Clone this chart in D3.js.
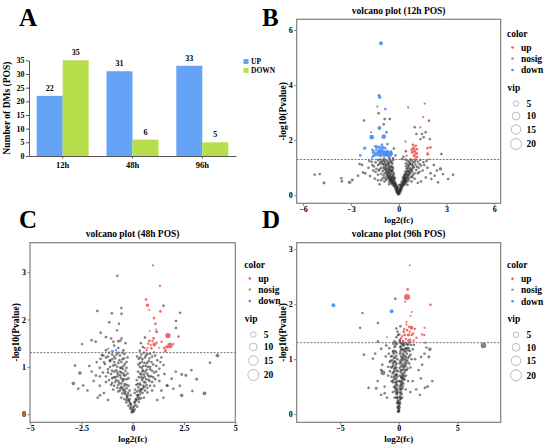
<!DOCTYPE html>
<html>
<head>
<meta charset="utf-8">
<script src="https://cdn.jsdelivr.net/npm/d3@7"></script>
<style>
  body { margin: 0; background: #fff; }
</style>
</head>
<body>
<div id="fig"></div>
<script>
// ---- data: bar chart (A) ----
const barCats = ['12h', '48h', '96h'];
const upCounts = [22, 31, 33];
const downCounts = [35, 6, 5];
const countTicks = [0, 5, 10, 15, 20, 25, 30, 35];

// ---- data: volcano plots, points are [log2fc, -log10 p, vip] ----
const pThreshold = 1.3;
const vipLegend = [5, 10, 15, 20];

const downB = [[-1.11,5.52,2.6],[-1.19,3.56,1.8],[-1.34,3.22,0.7],[-0.84,3.13,1.2],[-1.21,2.44,2.6],[-1.69,2.11,3.6],[-0.94,2.13,3.6],[-1.74,2.29,0.7],[-2.13,1.71,1.8],[-2.41,1.45,1.2],[-0.71,1.86,1.2],
  [-1.44,1.78,1.8],[-1.30,1.75,1.8],[-1.15,1.74,1.8],[-0.98,1.73,1.8],[-0.86,1.71,1.2],[-1.40,1.66,1.2],[-1.23,1.62,1.8],[-1.07,1.63,1.8],[-1.57,1.56,2.6],[-1.30,1.51,4.7],[-0.98,1.54,6],[-0.61,1.50,7.3],[-0.82,1.50,4.7],
  [-1.61,1.42,1.2],[-1.13,1.44,1.8],[-1.49,1.46,1.8],[-0.46,1.61,0.7],[-0.94,1.38,0.7],[-1.69,1.34,0.7],[-0.73,1.61,1.2],[-1.05,1.83,1.2],[-1.19,1.56,2.6],[-0.48,1.51,2.6],[-1.65,1.65,1.2]];
const upB = [[1.63,3.33,0.8],[0.59,3.19,0.8],[1.53,2.84,0.8],[1.36,2.47,0.8],[0.42,1.95,0.8],[1.99,1.74,1.2],[1.80,1.71,1.2],[1.82,1.50,1.8],[0.50,1.44,0.8],[0.75,1.31,0.6],[0.90,1.83,1.2],
  [1.07,1.80,1.2],[0.94,1.71,1.8],[1.15,1.68,1.2],[1.00,1.61,1.8],[0.86,1.56,1.8],[1.11,1.52,1.8],[0.98,1.44,1.8],[1.15,1.39,1.2],[1.05,1.32,1.2],[1.90,1.31,0.6],[0.82,1.66,1.2]];
const nosigB = [[-0.05,0.05],[0.05,0.06],[-0.1,0.1],[0.1,0.12],[-0.15,0.14],[0.15,0.18],[-0.08,0.18],[0.08,0.2],[-0.2,0.22],[0.2,0.25],[-0.12,0.26],[0.12,0.28],
  [-0.25,0.3],[-0.32,0.35],[-0.18,0.34],[-0.4,0.4],[-0.28,0.42],[-0.5,0.45],[-0.35,0.48],[-0.22,0.46],[-0.6,0.5],[-0.45,0.52],
  [0.22,0.32],[0.3,0.36],[0.38,0.4],[0.26,0.44],[0.45,0.46],[0.34,0.5],[0.55,0.5],[0.42,0.55],
  [-0.3,0.56],[-0.55,0.58],[-0.7,0.6],[-0.42,0.62],[-0.85,0.64],[-0.62,0.66],[-0.35,0.68],[-0.5,0.7],[-0.95,0.72],[-0.75,0.74],[-0.4,0.76],[-1.1,0.78],[-0.6,0.8],[-0.88,0.8],[-0.3,0.8],
  [0.3,0.58],[0.5,0.6],[0.65,0.63],[0.4,0.66],[0.78,0.68],[0.55,0.71],[0.9,0.74],[0.35,0.75],[0.7,0.78],[1.0,0.8],[0.48,0.8],
  [-0.45,0.85],[-0.7,0.86],[-1.0,0.88],[-1.25,0.9],[-0.55,0.92],[-0.85,0.94],[-1.4,0.96],[-0.35,0.98],[-0.65,1.0],[-1.1,1.0],[-0.9,1.04],[-1.55,1.05],[-0.5,1.06],[-0.75,1.08],[-1.3,1.1],[-1.0,1.12],
  [0.4,0.86],[0.62,0.88],[0.85,0.9],[1.1,0.92],[0.5,0.96],[0.75,0.98],[1.25,1.0],[0.95,1.02],[0.45,1.05],[0.65,1.08],[1.4,1.08],[1.05,1.12],
  [-0.4,1.15],[-0.6,1.16],[-0.85,1.18],[-1.15,1.2],[-1.45,1.2],[-0.5,1.24],[-0.75,1.26],[-1.0,1.27],[-1.3,1.28],[-1.7,1.22],[-0.35,1.28],
  [0.45,1.16],[0.7,1.18],[0.9,1.2],[1.2,1.22],[1.55,1.2],[0.55,1.26],[0.8,1.27],[1.05,1.28],[1.35,1.28],
  [-0.03,0.1],[0.03,0.14],[-0.06,0.22],[0.06,0.24],[-0.1,0.3],[0.1,0.36],[-0.15,0.38],[0.16,0.4],[-0.2,0.42],[0.18,0.48],[-0.26,0.5],[0.24,0.52],[-0.38,0.54],[0.36,0.56],
  [-0.48,0.6],[0.44,0.62],[-0.24,0.62],[0.26,0.64],[-0.58,0.7],[0.6,0.72],[-0.32,0.72],[0.42,0.74],[-0.68,0.8],[0.58,0.84],[-0.42,0.88],[0.8,0.84],[-0.8,0.9],[0.7,0.92],
  [-0.6,0.95],[0.58,0.98],[-1.2,0.94],[0.9,1.0],[-0.45,1.0],[1.15,1.04],[-0.8,1.0],[0.55,1.12],[-0.62,1.1],[0.82,1.12],[-0.95,1.14],[1.3,1.14],[-1.2,1.14],[0.62,1.22],
  [-0.45,1.2],[1.0,1.22],[-0.65,1.22],[0.75,1.3],[-0.9,1.25],[-1.15,1.3],[-0.55,1.3],[0.42,1.3],[-0.38,0.9],[-0.28,0.64],[0.33,0.68],[-0.72,0.68],[0.62,0.56],[-0.8,0.56],
  [-1.0,0.62],[0.85,0.66],[1.2,0.8],[-1.3,0.75],[-1.45,0.85],[1.3,0.85],[-1.65,1.1],[1.6,1.1],[-1.85,1.25],[1.75,1.25],[-0.05,0.3],[0.04,0.38],[-0.6,0.4],[0.55,0.38],
  [-0.9,0.5],[0.8,0.5],[-1.1,0.55],[1.0,0.6],
  [-0.02,0.04],[0.02,0.08],[-0.07,0.14],[0.07,0.16],[-0.12,0.2],[0.11,0.22],[-0.17,0.27],[0.16,0.3],[-0.22,0.35],[0.19,0.35],[-0.28,0.38],[0.26,0.39],[-0.33,0.44],[0.3,0.42],
  [-0.4,0.47],[0.35,0.46],[-0.46,0.5],[0.4,0.5],[-0.52,0.55],[0.46,0.54],[-0.36,0.58],[0.33,0.6],[-0.58,0.62],[0.52,0.65],[-0.45,0.66],[0.38,0.7],[-0.66,0.72],[0.62,0.76],
  [-0.52,0.78],[0.45,0.78],[-0.78,0.82],[0.52,0.88],[-0.62,0.86],[0.68,0.84],[-0.5,0.9],[0.78,0.94],[-0.72,0.94],[0.6,1.04],[-0.95,0.98],[0.88,1.08],[-0.58,1.02],[0.72,1.14],
  [-0.82,1.1],[-0.7,1.16],[-1.05,1.2],[-0.9,1.32],[-0.6,1.36],[-0.4,1.04],
  [-0.35,1.35],[-0.2,1.45],[0.3,1.4],[0.2,1.32],[-0.5,1.55],[0.45,1.6],[-0.3,1.7],
  [-2.18,2.72],[-1.26,2.98],[-1.23,3.63],[-0.88,2.77],[-0.56,2.77],[-0.94,2.58],[-0.77,2.29],[1.90,2.71],[1.00,2.47],[1.69,2.29],[1.57,2.11],[1.46,2.23],[1.95,2.04],[1.11,2.23],[2.68,1.50],[1.36,2.04],
  [-1.6,0.9],[-1.9,1.0],[-2.1,0.8],[-1.8,0.7],[-1.5,0.6],[-2.3,1.1],[-1.3,0.55],[-1.2,0.4],[1.5,0.9],[1.8,1.0],[2.0,0.8],[1.7,0.65],[1.4,0.5],[2.2,1.1],[1.2,0.45],[2.4,0.9],
  [-5.27,0.75],[-4.96,0.77],[-4.69,0.45,1.2],[-3.60,0.62],[-3.56,0.51],[-3.08,0.47,1.8],[-2.91,0.56,1.2],[-2.55,0.71],[-2.45,1.14],[-2.24,0.83],[3.41,0.75],[3.10,0.59],[2.78,0.77],[2.26,0.71],[2.47,0.47],[2.05,0.59],[2.62,0.96,1.8]];

const downC = [[-0.75,2.92,1.2],[-0.76,1.77,1.2],[-2.46,1.48,1.2],[-1.19,1.38,0.7],[-0.99,1.33,1.2],[-0.81,1.35,0.9]];
const upC = [[0.98,3.14,0.8],[1.33,2.71,0.9],[0.65,2.42,1.2],[0.72,2.30,1.8],[0.81,2.20,0.6],[1.35,2.17,1.2],[1.04,2.03,1.2],[1.11,1.91,1.2],[1.14,1.79,0.6],[0.83,1.76,0.6],[1.72,1.66,4.7],
  [2.23,1.64,1.2],[1.02,1.60,1.2],[0.81,1.55,1.2],[0.96,1.54,0.9],[1.82,1.45,4.7],[1.66,1.42,1.8],[1.06,1.47,2.6],[0.72,1.40,0.6],[0.91,1.39,1.2],[1.28,1.40,0.6],[1.59,1.34,1.8],
  [0.68,1.35,0.9],[1.17,1.51,0.9],[0.88,1.46,0.9],[1.04,1.31,0.9],[1.41,1.53,0.9],[1.53,1.40,0.9],[0.76,1.49,0.9],[0.59,1.40,0.7],[1.98,1.48,0.9]];
const nosigC = [[-0.05,0.05],[0.05,0.06],[-0.12,0.12],[0.1,0.1],[-0.08,0.2],[0.14,0.2],[-0.2,0.18],[0.22,0.16],[-0.18,0.28],[0.2,0.3],[-0.3,0.25],[0.3,0.26],[-0.26,0.35],[0.28,0.36],[-0.4,0.32],[0.4,0.34],
  [-0.35,0.42],[-0.5,0.44],[-0.22,0.45],[-0.62,0.5],[-0.42,0.52],[-0.3,0.55],[-0.75,0.56],[-0.55,0.58],[-0.9,0.6],[-0.2,0.6],[0.34,0.42],[0.48,0.45],[0.22,0.48],[0.6,0.5],[0.4,0.53],[0.28,0.57],[0.72,0.56],[0.52,0.6],[0.85,0.6],[0.18,0.62],
  [-0.38,0.64],[-0.65,0.66],[-1.0,0.66],[-0.48,0.7],[-0.8,0.72],[-1.15,0.72],[-0.3,0.74],[-0.58,0.77],[-0.92,0.78],[-1.3,0.8],[-0.42,0.82],[-0.7,0.84],[-1.05,0.85],[-0.25,0.86],[-0.55,0.88],[-1.45,0.88],
  [0.35,0.65],[0.62,0.67],[0.95,0.68],[0.45,0.72],[0.78,0.73],[1.1,0.74],[0.3,0.78],[0.58,0.79],[0.9,0.8],[1.25,0.82],[0.42,0.84],[0.7,0.86],[1.05,0.88],[0.26,0.9],
  [-0.35,0.92],[-0.8,0.93],[-1.2,0.95],[-0.6,0.98],[-1.6,0.98],[-0.45,1.02],[-0.95,1.03],[-1.35,1.06],[-0.7,1.08],[-0.3,1.1],[-1.1,1.12],[-1.75,1.1],[-0.5,1.16],[-0.85,1.18],[-1.3,1.2],[-0.62,1.24],[-1.0,1.26],[-0.4,1.27],[-1.5,1.25],
  [0.5,0.93],[0.85,0.95],[1.3,0.96],[0.35,1.0],[0.65,1.02],[1.0,1.05],[1.5,1.04],[0.45,1.1],[0.78,1.12],[1.2,1.14],[0.3,1.17],[0.6,1.2],[0.95,1.22],[1.4,1.2],[0.42,1.26],[0.72,1.27],
  [-0.03,0.1],[0.03,0.14],[-0.1,0.22],[0.08,0.25],[-0.15,0.32],[0.14,0.3],[-0.25,0.4],[0.22,0.4],[-0.4,0.45],[0.38,0.47],[-0.15,0.5],[0.12,0.52],[-0.5,0.55],[0.5,0.55],
  [-0.28,0.62],[0.25,0.64],[-0.7,0.62],[0.68,0.62],[-0.85,0.68],[0.82,0.7],[-0.5,0.74],[0.5,0.76],[-0.2,0.76],[0.2,0.72],[-1.0,0.76],[1.0,0.78],[-0.75,0.8],[0.75,0.82],
  [-0.35,0.82],[0.36,0.86],[-0.62,0.9],[0.6,0.9],[-0.9,0.9],[0.95,0.92],[-1.2,0.88],[1.15,0.9],[-0.48,0.96],[0.45,0.98],[-0.75,1.0],[0.75,1.0],[-1.1,1.0],[1.15,1.02],
  [-0.38,1.06],[0.58,1.08],[-0.9,1.1],[0.92,1.1],[-0.55,1.1],[0.38,1.2],[-0.78,1.26],[0.85,1.28],[-1.2,1.22],[1.1,1.24],[-0.5,1.3],[0.55,1.3],[-1.4,1.1],[1.35,1.1],
  [-1.05,0.62],[1.05,0.6],[-0.7,0.48],[0.72,0.46],[-0.95,0.52],[0.95,0.5],[-0.55,0.35],[0.55,0.35],[-1.3,0.68],[1.3,0.7],[-0.3,0.98],[0.28,1.05],[-0.25,1.2],[0.22,1.22],
  [-1.6,0.8],[1.55,0.85],[-0.1,0.4],[0.1,0.45],[-0.3,0.3],[0.32,0.32],
  [-0.02,0.04],[0.02,0.08],[-0.08,0.15],[0.07,0.17],[-0.13,0.24],[0.12,0.26],[-0.2,0.3],[0.18,0.33],[-0.28,0.37],[0.26,0.4],[-0.35,0.48],[0.33,0.5],[-0.45,0.5],[0.43,0.52],
  [-0.6,0.55],[0.58,0.58],[-0.4,0.6],[0.38,0.62],[-0.55,0.65],[0.55,0.68],[-0.7,0.7],[0.66,0.74],[-0.42,0.74],[0.42,0.78],[-0.85,0.78],[0.82,0.8],[-0.6,0.82],[0.55,0.84],
  [-0.45,0.86],[0.48,0.9],[-0.75,0.88],[0.68,0.94],[-1.0,0.92],[0.85,1.0],[-0.55,0.98],[0.52,1.02],[-0.85,1.04],[0.7,1.08],[-0.65,1.14],[0.48,1.16],[-1.0,1.16],[0.82,1.18],
  [-0.42,1.18],[0.65,1.24],[-0.7,1.3],[-0.9,1.22],[-1.15,1.3],[0.35,1.08],
  [-0.45,1.35],[-0.7,1.4],[-0.9,1.45],[-1.3,1.35],[-0.35,1.5],[-0.6,1.55],[-1.05,1.6],[0.35,1.34],[0.5,1.42],[0.4,1.5],[0.6,1.62],
  [-1.6,0.6],[-1.9,0.7],[-2.2,0.5],[-1.4,0.45],[-1.7,0.35],[-1.2,0.3],[-2.0,0.9],[1.4,0.5],[1.7,0.6],[1.9,0.75],[1.5,0.35],[2.1,0.9],[1.2,0.3],[2.3,0.6],
  [-1.72,2.18],[-1.01,2.13],[-0.55,2.24],[-0.54,2.12],[-1.14,1.94],[-0.67,1.91],[-1.56,1.72],[-1.30,1.63],[-2.0,1.56],[-1.80,1.53],[-0.94,1.53],[-0.70,1.54],[-0.54,1.60],
  [1.50,2.29],[2.11,1.97],[2.31,2.14],[2.11,1.82],[1.17,1.74],
  [4.13,1.24,2.2],[3.77,1.09],[2.86,0.93],[3.12,0.74,1.2],[2.39,0.84,1.2],[2.59,0.82,1.2],[3.50,0.44,2.2],[2.39,0.40,1.8],[2.91,0.49],[1.66,0.61],[1.98,0.54],
  [-2.81,1.03],[-2.57,0.87,1.8],[-2.11,1.02],[-2.89,0.65,1.8],[-2.65,0.54],[-2.41,0.61],[-1.59,0.40],[-1.79,0.82],[-1.43,1.24],[-1.56,1.17],[-1.11,1.14]];

const downD = [[-5.57,1.98,2.6],[-3.09,1.84,1.2],[-0.60,1.87,2.6],[-1.0,1.40,0.6],[-0.43,1.33,0.6]];
const upD = [[0.94,2.71,0.6],[0.77,2.27,1.2],[0.71,2.13,6],[0.54,2.05,0.6],[2.71,1.99,1.2],[1.11,1.86,0.6],[1.0,1.79,0.6],[0.66,1.68,0.8],[0.66,1.63,0.8],[1.09,1.57,2.6],[2.2,1.57,0.8],
  [0.71,1.53,1.2],[0.43,1.50,1.2],[0.94,1.50,0.9],[1.23,1.47,0.9],[1.97,1.45,0.8],[2.17,1.44,0.9],[0.51,1.44,1.2],[0.83,1.44,1.8],[1.11,1.44,1.2],[0.2,1.38,1.2],[0.6,1.37,0.9],
  [0.94,1.36,0.9],[0.37,1.33,0.9],[1.0,1.32,1.2],[2.26,1.30,0.9],[1.29,1.34,0.9],[0.8,1.34,0.9],[0.31,1.42,0.9],[1.37,1.55,0.9],[0.89,1.59,0.9],[0.46,1.55,0.9],[1.51,1.39,0.9]];
const nosigD = [[-0.05,0.05],[0.04,0.06],[-0.1,0.12],[0.08,0.12],[-0.15,0.2],[0.12,0.2],[-0.08,0.25],[0.18,0.28],[-0.22,0.3],[0.1,0.32],[-0.15,0.36],[0.24,0.36],
  [-0.3,0.42],[-0.18,0.45],[0.15,0.44],[0.3,0.46],[-0.4,0.5],[-0.25,0.53],[0.22,0.52],[0.4,0.55],[-0.5,0.58],[-0.15,0.6],[0.12,0.6],[0.3,0.62],[0.5,0.63],[-0.35,0.65],[-0.6,0.68],[0.2,0.68],[0.62,0.7],[0.4,0.72],
  [-0.25,0.72],[-0.45,0.76],[-0.75,0.78],[0.15,0.77],[0.3,0.8],[0.55,0.8],[0.75,0.83],[-0.3,0.84],[-0.55,0.86],[-0.9,0.86],[0.22,0.87],[0.45,0.9],[0.65,0.92],[0.9,0.92],[-0.2,0.93],[-0.4,0.95],[-0.7,0.97],[0.12,0.97],[0.35,0.98],[0.55,1.0],[0.8,1.02],
  [-0.3,1.03],[-0.55,1.06],[0.2,1.05],[0.42,1.08],[0.7,1.1],[1.0,1.08],[-0.2,1.12],[-0.45,1.15],[0.15,1.14],[0.3,1.17],[0.55,1.18],[0.85,1.2],[1.2,1.18],[-0.35,1.22],[0.22,1.23],[0.45,1.25],[0.7,1.27],[1.05,1.26],[-0.15,1.28],[0.35,1.29],
  [-0.03,0.1],[0.03,0.15],[-0.06,0.2],[0.06,0.22],[-0.1,0.3],[0.14,0.3],[-0.2,0.38],[0.2,0.4],[-0.12,0.44],[0.08,0.48],[-0.32,0.48],[0.35,0.5],[-0.2,0.56],[0.18,0.58],
  [-0.45,0.62],[0.42,0.64],[-0.12,0.68],[0.1,0.7],[-0.3,0.7],[0.28,0.74],[-0.52,0.74],[0.5,0.76],[-0.18,0.8],[0.08,0.84],[-0.4,0.82],[0.38,0.86],[-0.65,0.85],[0.6,0.88],
  [-0.25,0.9],[0.2,0.94],[-0.5,0.92],[0.75,0.96],[-0.12,1.0],[0.3,1.04],[-0.4,1.02],[0.5,1.06],[-0.65,1.05],[0.9,1.05],[0.1,1.1],[0.6,1.14],[-0.3,1.15],[0.38,1.18],
  [0.25,1.28],[0.55,1.3],[0.9,1.3],[-0.25,1.3],[0.12,1.22],[0.8,1.16],[0.08,0.92],[-0.08,0.78],[0.02,0.6],[-0.02,0.4],[0.45,0.68],[0.68,0.8],[-0.6,0.6],[-0.75,0.95],
  [1.1,1.0],[0.95,1.15],[1.3,1.26],[-0.85,1.1],[1.0,0.85],[-0.9,0.7],[0.8,0.6],[-0.5,0.4],[0.6,0.45],[0.3,0.3],[-0.35,0.3],
  [-0.02,0.04],[0.02,0.08],[-0.05,0.14],[0.05,0.18],[-0.08,0.22],[0.1,0.26],[-0.12,0.3],[0.14,0.38],[-0.16,0.4],[0.18,0.46],[-0.22,0.48],[0.25,0.55],[-0.28,0.58],[0.15,0.52],
  [-0.1,0.52],[0.32,0.58],[-0.22,0.64],[0.25,0.66],[-0.38,0.68],[0.35,0.7],[-0.15,0.72],[0.18,0.8],[-0.35,0.78],[0.42,0.82],[-0.22,0.85],[0.3,0.9],[-0.45,0.88],[0.52,0.94],
  [-0.32,0.96],[0.25,1.0],[-0.55,0.98],[0.4,1.02],[-0.2,1.06],[0.62,1.04],[0.32,1.1],[0.48,1.14],[-0.4,1.1],[0.2,1.18],[0.72,1.2],[0.4,1.26],[0.62,1.2],[0.15,1.3],
  [0.8,1.26],[-0.28,1.25],[-0.45,1.28],[0.5,0.86],[0.65,0.98],[0.28,0.66],
  [0.1,1.35],[0.05,1.45],[-0.1,1.5],[0.15,1.6],[-0.2,1.4],[-0.35,1.32],
  [-1.2,0.5],[-1.5,0.35],[-1.0,0.3],[-1.8,0.6],[-1.4,0.9],[-2.0,1.1],[1.2,0.6],[1.5,0.45],[1.0,0.4],[1.7,0.8],[1.4,1.0],[2.0,0.9],[2.2,1.1],[1.8,0.35],[-0.8,1.2],[-1.1,1.05],
  [-0.29,2.10],[-1.77,1.66],[-3.29,1.57],[7.23,1.25,4.7],[2.66,1.18,1.8],[2.57,1.04,1.2],[1.91,1.04],[2.37,1.21],[-2.97,1.08],[-1.34,0.75,3.6],[-1.49,0.80,1.2],[-2.57,0.48],[-1.91,0.47,1.2],[-1.2,0.38],
  [2.46,0.50,1.2],[2.23,0.48],[1.89,0.65],[2.86,0.6],[-1.77,1.32],[-1.06,1.25],[-1.49,1.19],[-2.2,1.01],[-0.49,1.13],[-0.2,1.56],[-0.06,1.44],[0.09,1.32]];

// ---- layout / style ----
const W = 550, H = 447;
const FONT = '"Liberation Serif", "Times New Roman", serif';
const C_UP_BAR = '#65a3f6', C_DOWN_BAR = '#b6df4b';
const C_UP = '#ef5a52', C_DOWN = '#4b8ef0', C_GREY = '#222';
const AXIS_GREY = '#808080';

const svg = d3.select('#fig').append('svg')
  .attr('width', W).attr('height', H)
  .style('font-family', FONT).style('font-weight', 'bold');

function styleAxisText(g, size) {
  g.selectAll('text')
    .attr('font-family', FONT)
    .attr('font-weight', 'bold')
    .attr('font-size', size)
    .attr('fill', '#000');
}

// panel letters
[['A', 19, 26], ['B', 262, 26], ['C', 19, 228], ['D', 262, 228]].forEach(([t, x, y]) => {
  svg.append('text').attr('x', x).attr('y', y)
    .attr('font-size', 25).attr('font-weight', 'bold').text(t);
});

// ---------------- Panel A: bar chart ----------------
const xA = d3.scaleBand().domain(barCats).range([29, 236]).paddingInner(0.255).paddingOuter(0.11);
const subA = d3.scaleBand().domain(['UP', 'DOWN']).range([0, xA.bandwidth()]);
const yA = d3.scaleLinear().domain([0, 35]).range([156, 60.3]);

const axA = svg.append('g').attr('transform', 'translate(29,0)')
  .call(d3.axisLeft(yA).tickValues(countTicks).tickSize(3).tickSizeOuter(0).tickPadding(1.5));
axA.selectAll('path, line').attr('stroke', '#555');
styleAxisText(axA, 8);

const axAx = svg.append('g').attr('transform', 'translate(0,156)')
  .call(d3.axisBottom(xA).tickSize(2.5).tickSizeOuter(0).tickPadding(3));
axAx.selectAll('path, line').attr('stroke', '#555');
styleAxisText(axAx, 8.5);

const barRows = barCats.map((c, i) => ({ cat: c, UP: upCounts[i], DOWN: downCounts[i] }));
barRows.forEach(row => {
  ['UP', 'DOWN'].forEach(k => {
    const x = xA(row.cat) + subA(k);
    svg.append('rect')
      .attr('x', x).attr('y', yA(row[k]))
      .attr('width', subA.bandwidth()).attr('height', yA(0) - yA(row[k]))
      .attr('fill', k === 'UP' ? C_UP_BAR : C_DOWN_BAR);
    svg.append('text')
      .attr('x', x + subA.bandwidth() / 2).attr('y', yA(row[k]) - 5)
      .attr('text-anchor', 'middle').attr('font-size', 8).text(row[k]);
  });
});

svg.append('text')
  .attr('transform', `translate(10,${(yA(0) + yA(35)) / 2}) rotate(-90)`)
  .attr('text-anchor', 'middle').attr('font-size', 9.5)
  .text('Number of DMs (POS)');

[['UP', C_UP_BAR, 59], ['DOWN', C_DOWN_BAR, 68]].forEach(([t, c, y]) => {
  svg.append('rect').attr('x', 243.5).attr('y', y).attr('width', 5).attr('height', 5).attr('fill', c);
  svg.append('text').attr('x', 251).attr('y', y + 5).attr('font-size', 7.5).text(t);
});

// ---------------- Volcano plots ----------------
const rScale = d3.scaleSqrt().domain([0, 20]).range([0, 5.5]);
const fmt = d3.format('~g');

const panels = [
  { title: 'volcano plot (12h POS)', box: [296.7, 500.7, 19.3, 203.3],
    xDom: [-6.4, 6.4], yDom: [-0.29, 6.39], xTicks: [-6, -3, 0, 3, 6], yTicks: [0, 2, 4, 6],
    up: upB, down: downB, nosig: nosigB, legX: 507, legY: 37 },
  { title: 'volcano plot (48h POS)', box: [30, 235.3, 242.7, 422.3],
    xDom: [-5, 5], yDom: [-0.17, 3.62], xTicks: [-5, -2.5, 0, 2.5, 5], yTicks: [0, 1, 2, 3],
    up: upC, down: downC, nosig: nosigC, legX: 244.3, legY: 268 },
  { title: 'volcano plot (96h POS)', box: [296.7, 500.7, 242.7, 422.3],
    xDom: [-8.7, 8.7], yDom: [-0.15, 3.12], xTicks: [-5, 0, 5], yTicks: [0, 1, 2, 3],
    up: upD, down: downD, nosig: nosigD, legX: 507, legY: 268.3 }
];

panels.forEach(p => {
  const [x0, x1, y0, y1] = p.box;
  const x = d3.scaleLinear().domain(p.xDom).range([x0, x1]);
  const y = d3.scaleLinear().domain(p.yDom).range([y1, y0]);
  const g = svg.append('g');

  // title
  g.append('text').attr('x', (x0 + x1) / 2).attr('y', y0 - 5.5)
    .attr('text-anchor', 'middle').attr('font-size', 9.5).text(p.title);

  // points
  const clipId = 'clip' + Math.round(x0) + '_' + Math.round(y0);
  g.append('clipPath').attr('id', clipId)
    .append('rect').attr('x', x0).attr('y', y0).attr('width', x1 - x0).attr('height', y1 - y0);
  const pts = g.append('g').attr('clip-path', `url(#${clipId})`);

  pts.selectAll('circle.ns').data(p.nosig).join('circle')
    .attr('class', 'ns')
    .attr('cx', d => x(d[0])).attr('cy', d => y(d[1]))
    .attr('r', d => rScale(d[2] || 0.95))
    .attr('fill', C_GREY).attr('fill-opacity', 0.55)
    .attr('stroke', C_GREY).attr('stroke-opacity', 0.3).attr('stroke-width', 0.4);

  [[p.down, C_DOWN], [p.up, C_UP]].forEach(([data, col]) => {
    pts.append('g').selectAll('circle').data(data).join('circle')
      .attr('cx', d => x(d[0])).attr('cy', d => y(d[1]))
      .attr('r', d => rScale(d[2]))
      .attr('fill', col).attr('fill-opacity', 0.9);
  });

  // threshold line
  g.append('line')
    .attr('x1', x0).attr('x2', x1).attr('y1', y(pThreshold)).attr('y2', y(pThreshold))
    .attr('stroke', '#666').attr('stroke-width', 0.9).attr('stroke-dasharray', '2,1.4');

  // frame
  g.append('rect').attr('x', x0).attr('y', y0).attr('width', x1 - x0).attr('height', y1 - y0)
    .attr('fill', 'none').attr('stroke', AXIS_GREY).attr('stroke-width', 1.2);

  // axes
  const ax = g.append('g').attr('transform', `translate(0,${y1})`)
    .call(d3.axisBottom(x).tickValues(p.xTicks).tickFormat(fmt).tickSize(2.5).tickPadding(1));
  ax.select('.domain').remove();
  ax.selectAll('line').attr('stroke', AXIS_GREY);
  styleAxisText(ax, 8);

  const ay = g.append('g').attr('transform', `translate(${x0},0)`)
    .call(d3.axisLeft(y).tickValues(p.yTicks).tickFormat(fmt).tickSize(2.5).tickPadding(1.5));
  ay.select('.domain').remove();
  ay.selectAll('line').attr('stroke', AXIS_GREY);
  styleAxisText(ay, 8);

  g.append('text').attr('x', (x0 + x1) / 2).attr('y', y1 + 19.5)
    .attr('text-anchor', 'middle').attr('font-size', 9).text('log2(fc)');
  g.append('text')
    .attr('transform', `translate(${x0 - 11},${(y0 + y1) / 2}) rotate(-90)`)
    .attr('text-anchor', 'middle').attr('font-size', 9.5).text('-log10(Pvalue)');

  // legend
  const L = g.append('g');
  L.append('text').attr('x', p.legX).attr('y', p.legY).attr('font-size', 9.5).text('color');
  [['up', C_UP, 10.5], ['nosig', '#999', 21.5], ['down', C_DOWN, 33]].forEach(([t, c, dy]) => {
    L.append('circle').attr('cx', p.legX + 5.5).attr('cy', p.legY + dy).attr('r', 1.3).attr('fill', c);
    L.append('text').attr('x', p.legX + 14).attr('y', p.legY + dy + 3.2).attr('font-size', 9.5).text(t);
  });
  L.append('text').attr('x', p.legX + 0.5).attr('y', p.legY + 53.5).attr('font-size', 9.5).text('vip');
  const circY = [66.5, 79, 92.5, 107];
  vipLegend.forEach((v, i) => {
    L.append('circle').attr('cx', p.legX + 9).attr('cy', p.legY + circY[i]).attr('r', rScale(v))
      .attr('fill', '#fff').attr('stroke', '#aaa').attr('stroke-width', 0.8);
    L.append('text').attr('x', p.legX + 19.5).attr('y', p.legY + circY[i] + 3.2)
      .attr('font-size', 9.5).text(v);
  });
});
</script>
</body>
</html>
